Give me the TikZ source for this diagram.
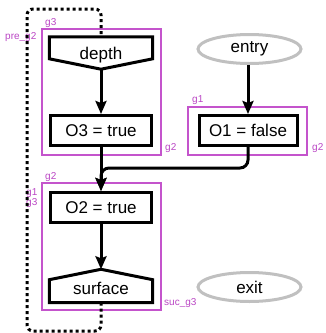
\documentclass[tikz,border=0pt]{standalone}
\usepackage{fontspec}
\setmainfont{Liberation Sans}
\usetikzlibrary{arrows.meta,calc,shapes.geometric}
\definecolor{clusc}{RGB}{196,84,204}
\definecolor{clabc}{RGB}{186,70,196}
\definecolor{termgray}{RGB}{192,192,192}
\begin{document}
\begin{tikzpicture}[x=1pt,y=-1pt,
  big/.style={font=\fontsize{17}{20}\selectfont},
  box/.style={draw,line width=3pt,minimum width=101pt,minimum height=30pt,inner sep=0pt,big},
  shapebox/.style={inner sep=0pt,minimum width=103pt,minimum height=32pt},
  poly/.style={draw,line width=3pt,line join=miter},
  txt/.style={inner sep=0pt,big},
  term/.style={draw=termgray,line width=3pt,ellipse,minimum width=103pt,minimum height=29pt,inner sep=0pt,big},
  clus/.style={draw=clusc,line width=1.3pt},
  clab/.style={text=clabc,font=\fontsize{10}{11}\selectfont,inner sep=0pt,anchor=west},
  edge/.style={line width=3pt,-{Stealth[length=13pt,width=11pt,inset=2pt]}},
  loopline/.style={line width=3pt,dash pattern=on 3pt off 3pt,rounded corners=6pt},
]
\useasboundingbox (0,0) rectangle (325,333);
% clusters
\draw[clus] (42,29) rectangle (161,155);
\draw[clus] (188,107) rectangle (307,155);
\draw[clus] (42,183) rectangle (161,310);
% cluster labels
\node[clab] (lg3) at (45,23) {g3};
\node[clab] (lpre) at (5,37) {pre\_g2};
\node[clab] (lg2a) at (165,148) {g2};
\node[clab] (lg1) at (192,100) {g1};
\node[clab] (lg2b) at (312,148) {g2};
\node[clab] (lg2c) at (45,177) {g2};
\node[clab] (lg1b) at (26,193) {g1};
\node[clab] (lg3b) at (26,203) {g3};
\node[clab] (lsuc) at (164,303) {suc\_g3};
% nodes
\node[shapebox] (depth) at (101,53) {};
\draw[poly] (depth.north west) -- (depth.north east) -- ($(depth.north east)+(0,22)$) -- (depth.south) -- ($(depth.north west)+(0,22)$) -- cycle;
\node[txt] (depthtext) at (101,55) {depth};
\node[box] (O3) at (101,130.5) {O3 = true};
\node[term] (entry) at (249.5,49) {entry};
\node[box,minimum width=98pt] (O1) at (248,130.5) {O1 = false};
\node[box] (O2) at (101,207.5) {O2 = true};
\node[shapebox,minimum height=33pt] (surface) at (101,286) {};
\draw[poly] (surface.south west) -- (surface.south east) -- ($(surface.south east)+(0,-23)$) -- (surface.north) -- ($(surface.south west)+(0,-23)$) -- cycle;
\node[txt] (surfacetext) at (101,288) {surface};
\node[term] (exit) at (249.5,287) {exit};
% edges
\draw[edge] (depth.south) -- (O3.north);
\draw[edge] (O1.north |- entry.south) -- (O1.north);
\draw[edge] (O3.south) -- (O2.north);
\draw[edge,rounded corners=8pt] (O1.south) -- (O1.south |- 0,168) -- (101,168) -- (O2.north);
\draw[edge] (O2.south) -- (surface.north);
\draw[loopline] (surface.south) -- (101,331) -- (27,331) -- (27,9) -- (101,9) -- (depth.north);
\end{tikzpicture}
\end{document}
